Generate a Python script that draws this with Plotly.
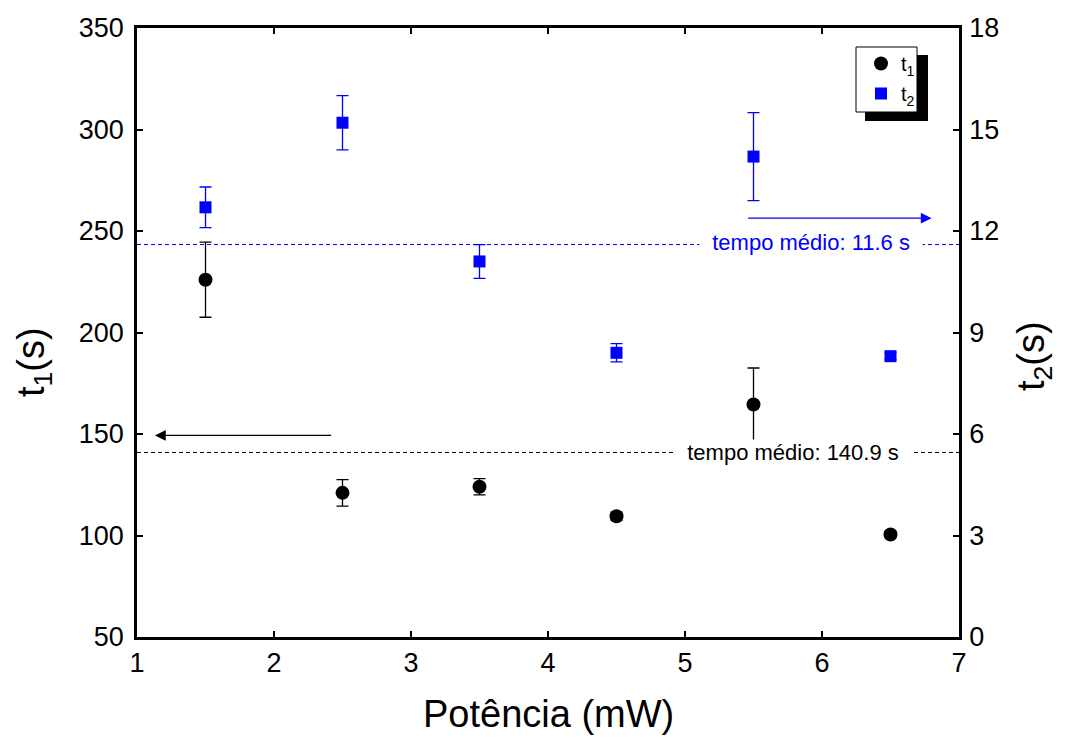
import plotly.graph_objects as go

# ---- data ----
potencia = [1.5, 2.5, 3.5, 4.5, 5.5, 6.5]
t1 = [226, 121, 124, 109.5, 164.5, 100.5]
t1_err = [18.5, 6.5, 4, 2, 18, 1.5]
t2 = [12.7, 15.2, 11.1, 8.4, 14.2, 8.3]
t2_err = [0.6, 0.8, 0.5, 0.27, 1.3, 0.1]
t1_mean = 140.9
t2_mean = 11.6
t1_label = "tempo médio: 140.9 s"
t2_label = "tempo médio: 11.6 s"
x_title = "Potência (mW)"
y1_title = "t<sub>1</sub>(s)"
y2_title = "t<sub>2</sub>(s)"

FONT = "Liberation Sans, Arial, sans-serif"
BLUE = "#0000FF"

fig = go.Figure()
fig.add_trace(go.Scatter(
    x=potencia, y=t1, mode="markers", name="t<sub>1</sub>", legendgroup="a",
    marker=dict(symbol="circle", size=14, color="black"),
    error_y=dict(type="data", array=t1_err, visible=True, color="black",
                 thickness=1.3, width=6),
    yaxis="y"))
fig.add_trace(go.Scatter(
    x=potencia, y=t2, mode="markers", name="t<sub>2</sub>", legendgroup="b",
    marker=dict(symbol="square", size=12, color=BLUE),
    error_y=dict(type="data", array=t2_err, visible=True, color=BLUE,
                 thickness=1.3, width=6),
    yaxis="y2"))

L, R, T, B = 137, 109, 28, 100
W, H = 1068, 737
pw, ph = W - L - R, H - T - B


def px(xp):
    return (xp - L) / pw


def py(yp):
    return (H - B - yp) / ph


shapes = [
    dict(type="line", xref="paper", x0=0, x1=1, yref="y", y0=t1_mean, y1=t1_mean,
         line=dict(color="black", width=1, dash="4px,3px")),
    dict(type="line", xref="paper", x0=0, x1=1, yref="y2", y0=t2_mean, y1=t2_mean,
         line=dict(color=BLUE, width=1, dash="4px,3px")),
    # legend shadow and box
    dict(type="rect", xref="paper", yref="paper", x0=px(865), x1=px(928),
         y0=py(121), y1=py(55), fillcolor="black", line=dict(width=0), layer="above"),
    dict(type="rect", xref="paper", yref="paper", x0=px(856), x1=px(917),
         y0=py(112), y1=py(47), fillcolor="white", line=dict(color="black", width=1),
         layer="above"),
]

annotations = [
    dict(x=5.788, y=t1_mean, xref="x", yref="y", text="\u00a0\u00a0" + t1_label + "\u00a0\u00a0",
         showarrow=False, font=dict(family=FONT, size=22, color="black"),
         bgcolor="white", borderpad=0),
    dict(x=5.923, y=t2_mean, xref="x", yref="y2", text="\u00a0\u00a0" + t2_label + "\u00a0\u00a0",
         showarrow=False, font=dict(family=FONT, size=22, color=BLUE),
         bgcolor="white", borderpad=0, yshift=2),
    dict(x=1.131, y=149.3, xref="x", yref="y", ax=2.428, ay=149.3, axref="x", ayref="y",
         text="", showarrow=True, arrowhead=2, arrowsize=1.8, arrowwidth=1.2,
         arrowcolor="black"),
    dict(x=6.80, y=12.38, xref="x", yref="y2", ax=5.45, ay=12.38, axref="x", ayref="y2",
         text="", showarrow=True, arrowhead=2, arrowsize=1.8, arrowwidth=1.2,
         arrowcolor=BLUE),
    # axis titles
    dict(x=0.5, y=py(714), xref="paper", yref="paper", text=x_title, showarrow=False,
         xanchor="center", yanchor="middle", font=dict(family=FONT, size=38, color="black")),
    dict(x=px(34), y=py(362), xref="paper", yref="paper", text=y1_title, showarrow=False,
         textangle=-90, xanchor="center", yanchor="middle",
         font=dict(family=FONT, size=38, color="black")),
    dict(x=px(1034), y=py(356), xref="paper", yref="paper", text=y2_title, showarrow=False,
         textangle=-90, xanchor="center", yanchor="middle",
         font=dict(family=FONT, size=38, color="black")),
]

axis_common = dict(showgrid=False, zeroline=False, ticks="inside", ticklen=6,
                   tickwidth=2, tickcolor="black", showline=True, linewidth=2.5,
                   linecolor="black", automargin=False,
                   tickfont=dict(family=FONT, size=27, color="black"))

fig.update_layout(
    width=W, height=H, autosize=False,
    margin=dict(l=L, r=R, t=T, b=B),
    paper_bgcolor="white", plot_bgcolor="white",
    font=dict(family=FONT, color="black"),
    xaxis=dict(range=[1, 7], dtick=1, mirror="ticks", ticklabelstandoff=0, **axis_common),
    yaxis=dict(range=[50, 350], dtick=50, ticklabelstandoff=5, **axis_common),
    yaxis2=dict(range=[0, 18], dtick=3, overlaying="y", side="right", ticklabelstandoff=2,
                **axis_common),
    showlegend=True,
    legend=dict(x=px(861), y=py(44), xanchor="left", yanchor="top",
                bgcolor="rgba(0,0,0,0)", borderwidth=0, traceorder="grouped",
                tracegroupgap=1,
                font=dict(family=FONT, size=20, color="black"),
                itemwidth=30),
    shapes=shapes,
    annotations=annotations,
)

fig.write_html("out.html")
